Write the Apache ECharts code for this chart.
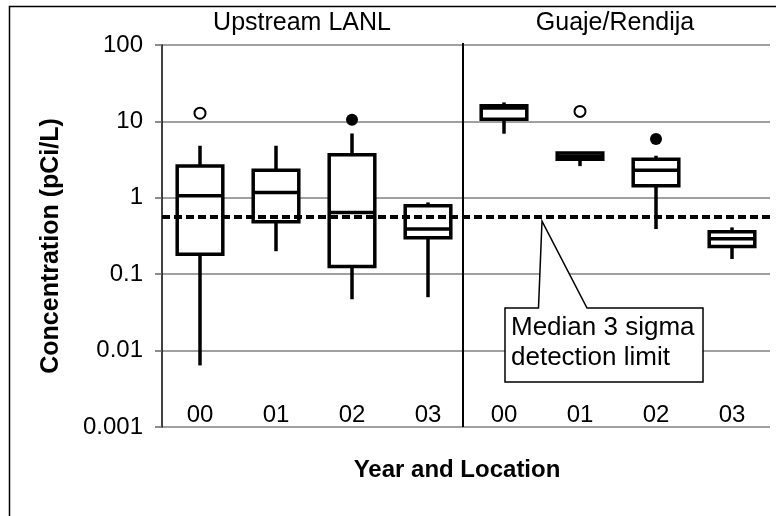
<!DOCTYPE html>
<html><head><meta charset="utf-8">
<script src="https://cdn.jsdelivr.net/npm/echarts@6/dist/echarts.min.js"></script>
<style>html,body{margin:0;padding:0;background:#fff}#c{width:776px;height:516px}</style>
</head><body><div id="c"></div>
<script>
// ---- data ----
const locations = ['Upstream LANL', 'Guaje/Rendija'];
const categories = ['Upstream LANL 00','Upstream LANL 01','Upstream LANL 02','Upstream LANL 03',
                    'Guaje/Rendija 00','Guaje/Rendija 01','Guaje/Rendija 02','Guaje/Rendija 03'];
const yearLabels = ['00','01','02','03','00','01','02','03'];
const whiskerLow  = [0.0064, 0.20, 0.047, 0.050, 6.9, 2.6, 0.39, 0.158];
const quartile1   = [0.183, 0.485, 0.126, 0.30, 10.7, 3.2, 1.44, 0.23];
const medians     = [1.06, 1.17, 0.64, 0.39, 15.0, 3.5, 2.3, 0.29];
const quartile3   = [2.6, 2.3, 3.65, 0.785, 16.0, 3.85, 3.2, 0.36];
const whiskerHigh = [4.8, 4.8, 6.95, 0.87, 17.7, 3.85, 3.55, 0.41];
const openOutliers   = [[0, 12.8], [5, 13.5]];
const filledOutliers = [[2, 10.5], [6, 5.9]];
const detectionLimit = 0.56;
const calloutText = ['Median 3 sigma', 'detection limit'];

const FONT = '"Liberation Sans", Arial, Helvetica, sans-serif';
const boxData = categories.map((c, i) => [i, whiskerLow[i], quartile1[i], medians[i], quartile3[i], whiskerHigh[i]]);

function renderBox(params, api) {
  const i = api.value(0);
  const lo = api.coord([i, api.value(1)]);
  const b1 = api.coord([i, api.value(2)]);
  const md = api.coord([i, api.value(3)]);
  const b3 = api.coord([i, api.value(4)]);
  const hi = api.coord([i, api.value(5)]);
  const band = api.size([1, 0], [i, 1])[0];
  const w = band * 0.6;
  const cx = lo[0];
  const st = { stroke: '#000', lineWidth: 3.5, fill: null };
  return {
    type: 'group',
    children: [
      { type: 'line', shape: { x1: cx, y1: b1[1], x2: cx, y2: lo[1] }, style: st },
      { type: 'line', shape: { x1: cx, y1: b3[1], x2: cx, y2: hi[1] }, style: st },
      { type: 'rect', shape: { x: cx - w / 2, y: b3[1], width: w, height: b1[1] - b3[1] },
        style: { stroke: '#000', lineWidth: 3.5, fill: '#fff' } },
      { type: 'line', shape: { x1: cx - w / 2, y1: md[1], x2: cx + w / 2, y2: md[1] }, style: st }
    ]
  };
}

const chart = echarts.init(document.getElementById('c'), null, { renderer: 'canvas' });
const option = {
  animation: false,
  backgroundColor: '#fff',
  textStyle: { fontFamily: FONT },
  grid: { left: 162, right: 6, top: 45, bottom: 89, containLabel: false },
  xAxis: {
    type: 'category',
    data: categories,
    name: 'Year and Location',
    nameLocation: 'middle',
    nameGap: 31,
    nameTextStyle: { fontSize: 24, fontWeight: 'bold', color: '#000', fontFamily: FONT, padding: [0, 18, 0, 0] },
    axisLine: { show: false },
    axisTick: { show: false },
    axisLabel: { inside: true, margin: 0, fontSize: 24, color: '#000', fontFamily: FONT,
      formatter: (v, i) => yearLabels[i] },
    splitLine: { show: false }
  },
  yAxis: {
    type: 'log',
    logBase: 10,
    min: 0.001,
    max: 100,
    name: 'Concentration (pCi/L)',
    nameLocation: 'middle',
    nameRotate: 90,
    nameGap: 98,
    nameTextStyle: { fontSize: 25, fontWeight: 'bold', color: '#000', fontFamily: FONT, padding: [0, 20, 0, 0] },
    axisLine: { show: true, lineStyle: { color: '#000', width: 1.5 } },
    axisTick: { show: true, length: 7, lineStyle: { color: '#666', width: 1.5 } },
    axisLabel: { fontSize: 24, color: '#000', margin: 19, fontFamily: FONT,
      formatter: (v) => { const e = Math.round(Math.log10(v)); return e < 0 ? v.toFixed(-e) : String(Math.round(v)); } },
    splitLine: { show: true, lineStyle: { color: '#808080', width: 1.5 } },
    minorTick: { show: false }
  },
  series: [
    { type: 'custom', name: 'box', renderItem: renderBox, data: boxData, z: 3,
      encode: { x: 0, y: [1, 2, 3, 4, 5] } },
    { type: 'scatter', name: 'open outliers', data: openOutliers, symbol: 'circle', symbolSize: 11, z: 4,
      itemStyle: { color: '#fff', borderColor: '#000', borderWidth: 2, opacity: 1 } },
    { type: 'scatter', name: 'filled outliers', data: filledOutliers, symbol: 'circle', symbolSize: 12, z: 4,
      itemStyle: { color: '#000', opacity: 1 },
      markLine: { silent: true, symbol: ['none', 'none'], label: { show: false }, animation: false,
        lineStyle: { color: '#000', width: 4, type: [8, 4] },
        data: [{ yAxis: detectionLimit }] } }
  ]
};
chart.setOption(option);

// annotations (titles, separator, callout, frame)
const px = (i, v) => chart.convertToPixel({ gridIndex: 0 }, [i, v]);
const mid = (a, b, v) => (px(a, v)[0] + px(b, v)[0]) / 2;
const limitY = px(0, detectionLimit)[1];
const topY = px(0, 100)[1], botY = px(0, 0.001)[1];
const sepX = mid(3, 4, 1) - 3;
const tipX = mid(4, 5, 1), tipY = limitY + 4;
const boxL = tipX - 37, boxR = tipX + 161, boxT = tipY + 87, boxB = tipY + 161;
chart.setOption({
  graphic: [
    { type: 'rect', left: 7, top: 4, shape: { x: 0, y: 0, width: 800, height: 600 }, silent: true,
      style: { fill: null, stroke: '#000', lineWidth: 1.5 }, z: 1 },
    { type: 'line', z: 5, shape: { x1: sepX, y1: topY - 2, x2: sepX, y2: botY }, style: { stroke: '#000', lineWidth: 2 } },
    { type: 'text', x: mid(1, 2, 1) - 12, y: 23, style: { text: locations[0], font: '25px ' + FONT, fill: '#000',
      textAlign: 'center', textVerticalAlign: 'middle' }, z: 10 },
    { type: 'text', x: mid(5, 6, 1) - 3, y: 23, style: { text: locations[1], font: '25px ' + FONT, fill: '#000',
      textAlign: 'center', textVerticalAlign: 'middle' }, z: 10 },
    { type: 'polygon', z: 10, shape: { points: [[boxL, boxT], [tipX - 3.5, boxT], [tipX, tipY], [tipX + 45, boxT],
        [boxR, boxT], [boxR, boxB], [boxL, boxB]] },
      style: { fill: '#fff', stroke: '#000', lineWidth: 1.5 } },
    { type: 'text', z: 11, x: boxL + 6, y: boxT + 5, style: { text: calloutText.join('\n'), font: '26px ' + FONT,
      fill: '#000', textAlign: 'left', textVerticalAlign: 'top', lineHeight: 30 } }
  ]
});
</script></body></html>
